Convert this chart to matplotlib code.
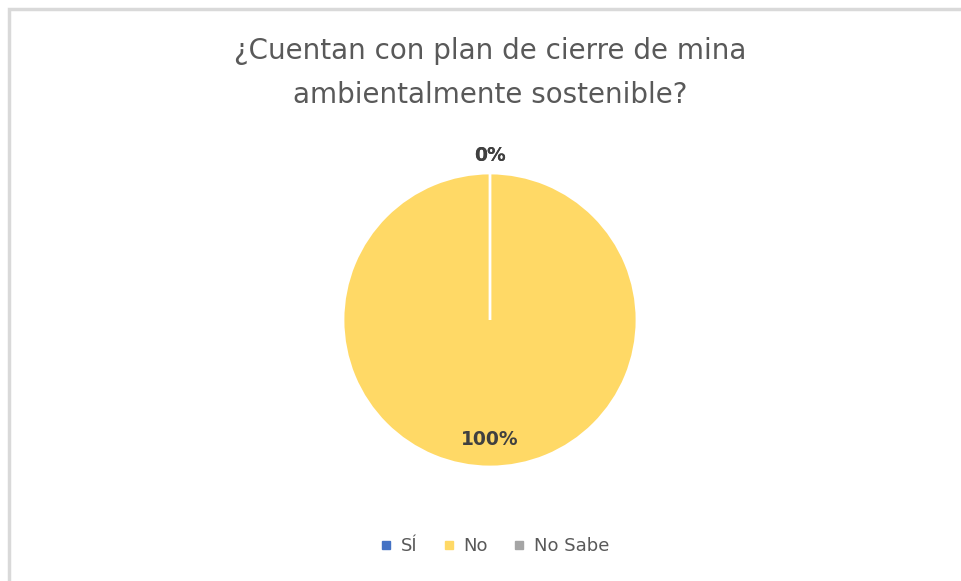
import numpy as np
import matplotlib.pyplot as plt
from matplotlib.patches import Rectangle

# data
categories = ['SÍ', 'No', 'No Sabe']
values = [0, 100, 0]
colors = ['#4472C4', '#FFD966', '#A5A5A5']
title = '¿Cuentan con plan de cierre de mina\nambientalmente sostenible?'

fig = plt.figure(figsize=(9.61, 5.81), dpi=100)
fig.patch.set_facecolor('white')

# chart border (runs off right and bottom edge like the screenshot)
fig.add_artist(Rectangle((9 / 961, -0.05), 1.05, 1 - 9 / 581 + 0.05,
                         transform=fig.transFigure, fill=False,
                         edgecolor='#D9D9D9', linewidth=2.5))

fig.text(490 / 961, 1 - 73 / 581, title, ha='center', va='center',
         fontsize=20, color='#595959', linespacing=1.75)

# pie
ax = fig.add_axes([(490 - 147) / 961, (261 - 147) / 581, 294 / 961, 294 / 581])
wedges, _ = ax.pie(values, colors=colors, startangle=90, counterclock=False,
                   radius=1, wedgeprops=dict(edgecolor='white', linewidth=2))
ax.set_xlim(-1, 1)
ax.set_ylim(-1, 1)
ax.set_aspect('equal')
ax.axis('off')

total = sum(values)
shown = set()
for w, v in zip(wedges, values):
    ang = np.deg2rad((w.theta1 + w.theta2) / 2)
    dist = 0.81 if v > 0 else 1.12
    x, y = dist * np.cos(ang), dist * np.sin(ang)
    key = (abs(round(x, 2)), round(y, 2))
    if key in shown:
        continue
    shown.add(key)
    ax.text(x, y, f'{v / total * 100:.0f}%', ha='center', va='center',
            fontsize=13.5, fontweight='bold', color='#404040', clip_on=False)

# legend
handles = [plt.Line2D([], [], marker='s', linestyle='', color=c, markersize=6)
           for c in colors]
fig.legend(handles, categories, loc='center', bbox_to_anchor=(493 / 961, 1 - 546 / 581),
           ncol=3, frameon=False, fontsize=13, labelcolor='#595959',
           handletextpad=0.3, columnspacing=1.25, handlelength=1.0)

fig.savefig('out.png', dpi=100)
